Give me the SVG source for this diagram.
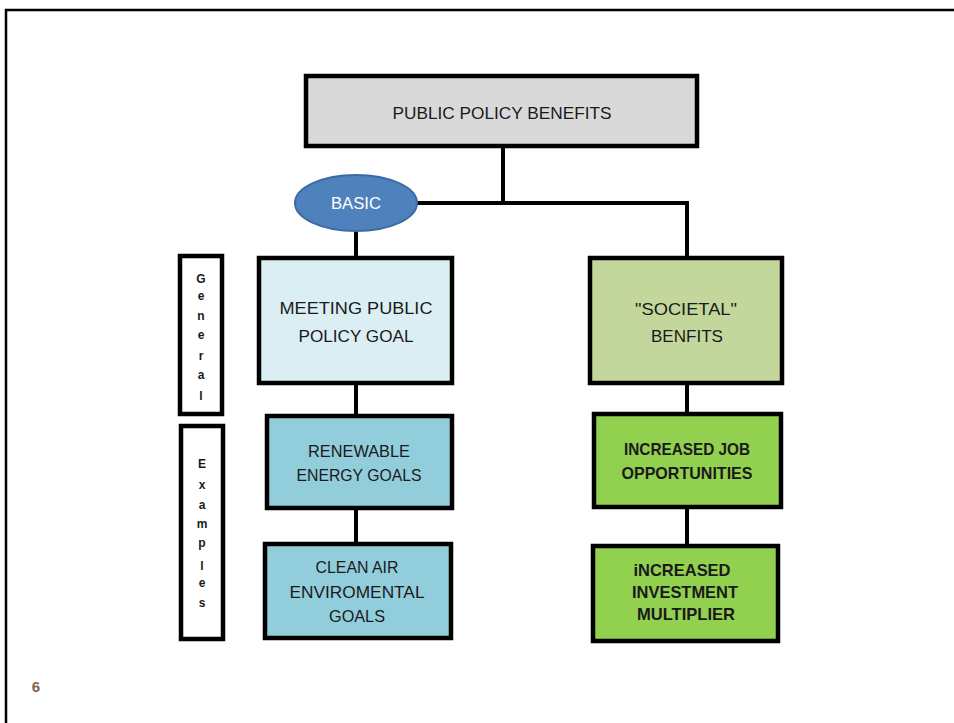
<svg xmlns="http://www.w3.org/2000/svg" width="954" height="723" viewBox="0 0 954 723">
<style>
.box{stroke:#000;stroke-width:4.5;}
.t{font-family:"Liberation Sans",Arial,sans-serif;font-size:17px;fill:#1a1a1a;text-anchor:middle;}
.b{font-weight:bold;}
.v{font-family:"Liberation Sans",Arial,sans-serif;font-size:12px;font-weight:bold;fill:#1a1a1a;text-anchor:middle;}
.c{fill:none;stroke:#000;stroke-width:4;}
</style>
<rect width="954" height="723" fill="#fff"/>
<path d="M6,723 V10 H954" fill="none" stroke="#000" stroke-width="2.5"/>
<g id="connectors">
<path class="c" d="M503,146 V203"/>
<path class="c" d="M416,203 H687 V259"/>
<path class="c" d="M356,231 V259"/>
<path class="c" d="M356,384 V416"/>
<path class="c" d="M356,509 V544"/>
<path class="c" d="M687,384 V414"/>
<path class="c" d="M687,508 V546"/>
</g>
<g id="top">
<rect class="box" x="306" y="76" width="391" height="70" fill="#d9d9d9"/>
<text class="t" x="502" y="119" textLength="219" lengthAdjust="spacingAndGlyphs">PUBLIC POLICY BENEFITS</text>
</g>
<g id="basic">
<ellipse cx="356" cy="203" rx="61" ry="28" fill="#4f81bd" stroke="#3c6aa3" stroke-width="2"/>
<text class="t" x="356" y="209" style="fill:#fff" textLength="50" lengthAdjust="spacingAndGlyphs">BASIC</text>
</g>
<g id="general">
<rect class="box" x="180" y="256" width="42" height="158" fill="#fff"/>
<text class="v" x="201" y="283">G</text>
<text class="v" x="201" y="300">e</text>
<text class="v" x="201" y="320">n</text>
<text class="v" x="201" y="339">e</text>
<text class="v" x="201" y="360">r</text>
<text class="v" x="201" y="379">a</text>
<text class="v" x="201" y="400">l</text>
</g>
<g id="examples">
<rect class="box" x="181" y="426" width="42" height="213" fill="#fff"/>
<text class="v" x="202" y="468">E</text>
<text class="v" x="202" y="489">x</text>
<text class="v" x="202" y="509">a</text>
<text class="v" x="202" y="528">m</text>
<text class="v" x="202" y="547">p</text>
<text class="v" x="202" y="570">l</text>
<text class="v" x="202" y="587">e</text>
<text class="v" x="202" y="607">s</text>
</g>
<g id="meeting">
<rect class="box" x="259" y="258" width="193" height="125" fill="#dbeef4"/>
<text class="t" x="356" y="314" textLength="153" lengthAdjust="spacingAndGlyphs">MEETING PUBLIC</text>
<text class="t" x="356" y="342" textLength="115" lengthAdjust="spacingAndGlyphs">POLICY GOAL</text>
</g>
<g id="renewable">
<rect class="box" x="267" y="416" width="185" height="92" fill="#92cddc"/>
<text class="t" x="359" y="457" textLength="102" lengthAdjust="spacingAndGlyphs">RENEWABLE</text>
<text class="t" x="359" y="481" textLength="125" lengthAdjust="spacingAndGlyphs">ENERGY GOALS</text>
</g>
<g id="cleanair">
<rect class="box" x="265" y="544" width="186" height="94" fill="#92cddc"/>
<text class="t" x="357" y="573" textLength="83" lengthAdjust="spacingAndGlyphs">CLEAN AIR</text>
<text class="t" x="357" y="598" textLength="135" lengthAdjust="spacingAndGlyphs">ENVIROMENTAL</text>
<text class="t" x="357" y="622" textLength="56" lengthAdjust="spacingAndGlyphs">GOALS</text>
</g>
<g id="societal">
<rect class="box" x="590" y="258" width="192" height="125" fill="#c3d69b"/>
<text class="t" x="686" y="315" textLength="102" lengthAdjust="spacingAndGlyphs">"SOCIETAL"</text>
<text class="t" x="687" y="342" textLength="72" lengthAdjust="spacingAndGlyphs">BENFITS</text>
</g>
<g id="jobs">
<rect class="box" x="594" y="414" width="187" height="93" fill="#92d050"/>
<text class="t b" x="687" y="455" textLength="126" lengthAdjust="spacingAndGlyphs">INCREASED JOB</text>
<text class="t b" x="687" y="479" textLength="131" lengthAdjust="spacingAndGlyphs">OPPORTUNITIES</text>
</g>
<g id="investment">
<rect class="box" x="593" y="546" width="185" height="95" fill="#92d050"/>
<text class="t b" x="682" y="576" textLength="97" lengthAdjust="spacingAndGlyphs">iNCREASED</text>
<text class="t b" x="685" y="598" textLength="106" lengthAdjust="spacingAndGlyphs">INVESTMENT</text>
<text class="t b" x="686" y="620" textLength="98" lengthAdjust="spacingAndGlyphs">MULTIPLIER</text>
</g>
<text x="36" y="692" font-family="Liberation Sans,Arial,sans-serif" font-size="15" font-weight="bold" fill="#7b6352" text-anchor="middle">6</text>
</svg>
